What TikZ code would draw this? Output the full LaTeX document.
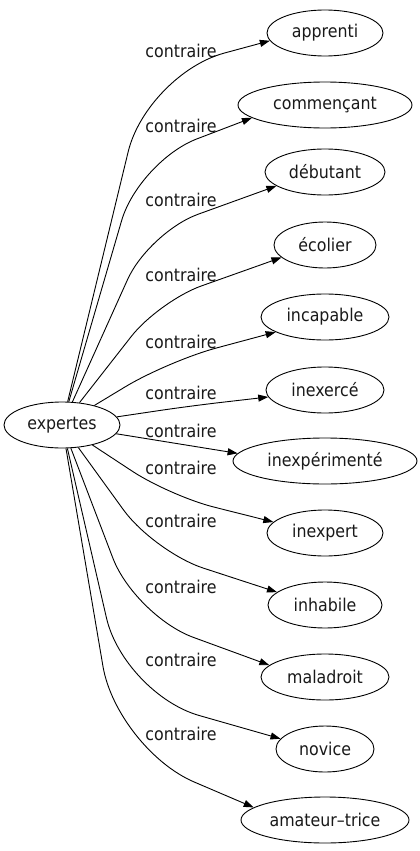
\documentclass[tikz,border=0pt]{standalone}
\usepackage{fontspec}
\setmainfont{DejaVu Sans}[FakeStretch=0.9]
\usetikzlibrary{arrows.meta,shapes.geometric}
\begin{document}
\begin{tikzpicture}[x=1pt,y=-1pt,
  every node/.style={font=\fontsize{17.6}{20}\selectfont, text=black!90},
  term/.style={draw=black, ellipse, line width=0.9pt, minimum height=46pt, inner sep=0pt},
  lbl/.style={inner sep=0pt},
  rel/.style={draw=black, line width=0.9pt, -{Triangle[length=10pt,width=7pt]}},
]
\useasboundingbox (0,0) rectangle (420,851);

\node[term, minimum width=116pt] (src) at (62,425) {expertes};

\node[term, minimum width=116pt] (t1) at (325,33) {apprenti};
\node[term, minimum width=174pt] (t2) at (325,105) {commençant};
\node[term, minimum width=120pt] (t3) at (325,172) {débutant};
\node[term, minimum width=102pt] (t4) at (325,245) {écolier};
\node[term, minimum width=128pt] (t5) at (325,317) {incapable};
\node[term, minimum width=118pt] (t6) at (325,390) {inexercé};
\node[term, minimum width=184pt] (t7) at (325,461) {inexpérimenté};
\node[term, minimum width=116pt] (t8) at (325,533) {inexpert};
\node[term, minimum width=114pt] (t9) at (325,605) {inhabile};
\node[term, minimum width=128pt] (t10) at (325,677) {maladroit};
\node[term, minimum width=98pt] (t11) at (325,749) {novice};
\node[term, minimum width=168pt] (t12) at (325,820) {amateur–trice};

\node[lbl] (l1) at (181,51) {contraire};
\node[lbl] (l2) at (181,126) {contraire};
\node[lbl] (l3) at (181,200) {contraire};
\node[lbl] (l4) at (181,275) {contraire};
\node[lbl] (l5) at (181,342) {contraire};
\node[lbl] (l6) at (181,393) {contraire};
\node[lbl] (l7) at (181,431) {contraire};
\node[lbl] (l8) at (181,468) {contraire};
\node[lbl] (l9) at (181,521) {contraire};
\node[lbl] (l10) at (181,587) {contraire};
\node[lbl] (l11) at (181,660) {contraire};
\node[lbl] (l12) at (181,734) {contraire};

\coordinate (k1) at (147,74);
\coordinate (k2) at (139,161);
\coordinate (k3) at (149,232);
\coordinate (k4) at (159,301);
\coordinate (k5) at (168,361);
\coordinate (k6) at (190,406);
\coordinate (k8) at (170,496);
\coordinate (k9) at (154,552);
\coordinate (k10) at (135,616);
\coordinate (k11) at (124,694);
\coordinate (k12) at (117,749);

\draw[rel, rounded corners=80pt] (src) -- (k1) -- (t1.188);
\draw[rel, rounded corners=62pt] (src) -- (k2) -- (t2.190);
\draw[rel, rounded corners=52pt] (src) -- (k3) -- (t3.196);
\draw[rel, rounded corners=45pt] (src) -- (k4) -- (t4.196);
\draw[rel, rounded corners=50pt] (src) -- (k5) -- (t5.197);
\draw[rel, rounded corners=30pt] (src) -- (k6) -- (t6.187);
\draw[rel] (src) -- (t7.175.5);
\draw[rel, rounded corners=45pt] (src) -- (k8) -- (t8.168);
\draw[rel, rounded corners=52pt] (src) -- (k9) -- (t9.165);
\draw[rel, rounded corners=62pt] (src) -- (k10) -- (t10.168);
\draw[rel, rounded corners=78pt] (src) -- (k11) -- (t11.167);
\draw[rel, rounded corners=84pt] (src) -- (k12) -- (t12.170);
\end{tikzpicture}
\end{document}
